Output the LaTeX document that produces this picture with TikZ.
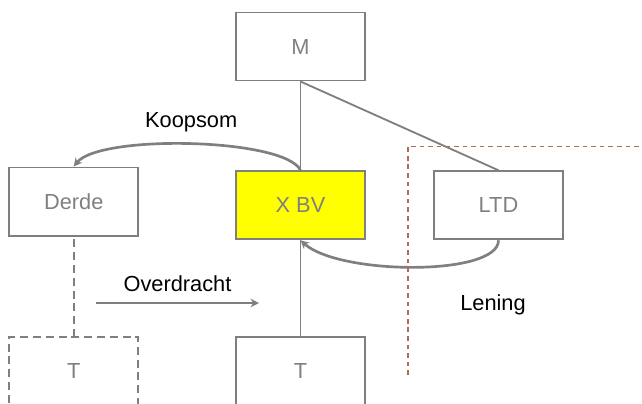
\documentclass[tikz,border=0pt]{standalone}
\usepackage{fontspec}
\setmainfont{Liberation Sans}
\usetikzlibrary{positioning,arrows.meta}
\definecolor{lne}{HTML}{7F7F7F}
\definecolor{txt}{HTML}{808080}
\definecolor{bv}{HTML}{FFFF00}
\definecolor{brd}{HTML}{A8704E}
\tikzset{
  ent/.style={draw=lne, line width=1.4pt, minimum width=3.225cm, minimum height=1.7cm, inner sep=0pt, text=txt},
  lnk/.style={draw=lne, line width=1.3pt},
  flw/.style={draw=lne, line width=1.9pt, -{Stealth[length=6pt,width=6pt]}},
  dsh/.style={dash pattern=on 5.7pt off 3.4pt}}

\begin{document}
\begin{tikzpicture}[x=0.025cm, y=-0.025cm, font=\fontsize{15.5}{18}\selectfont]
\useasboundingbox (0,0) rectangle (642,403);
\node[ent] (m) at (300.5,46.5) {M};
\node[ent] (derde) at (73.7,201.5) {Derde};
\node[ent, fill=bv] (xbv) at (300.5,205.3) {X BV};
\node[ent] (ltd) at (498.5,205.3) {LTD};
\node[ent, dsh] (tder) at (73.7,371) {T};
\node[ent] (tbv) at (300.5,371.3) {T};
\coordinate (ovs) at (96,303);
\coordinate (ove) at (259,303);
\draw[lnk] (m.south) -- (xbv.north);
\draw[lnk] (m.south) -- (ltd.north);
\draw[lnk] (xbv.south) -- (tbv.north);
\draw[lnk, dsh] ([yshift=-2pt]derde.south) -- (tder.north);
\draw[flw] (xbv.north) .. controls (285,138) and (100,134) .. (derde.north) node[pos=0.5, above=4pt, text=black] {Koopsom};
\draw[flw] (ltd.south) .. controls +(0,36) and +(39,35) .. (xbv.south);
\draw[flw] (ovs) -- (ove) node[midway, above=4pt, text=black] {Overdracht};
\node[text=black] (len) at (493,305) {Lening};
\draw[brd, line width=1pt, dash pattern=on 3.3pt off 2.8pt] (408,375) -- (408,146.5) -- (645,146.5);
\end{tikzpicture}
\end{document}
